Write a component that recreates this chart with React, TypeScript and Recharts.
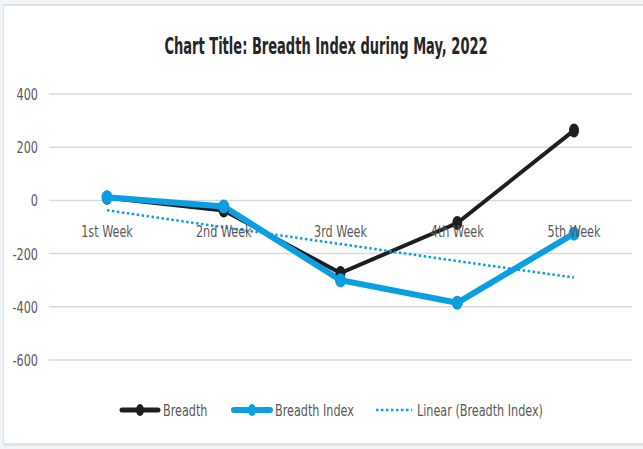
import { LineChart, Line, XAxis, YAxis, CartesianGrid, Legend } from "recharts";

const weeks = ["1st Week", "2nd Week", "3rd Week", "4th Week", "5th Week"];
const breadth = [10, -38, -273, -85, 263];
const breadthIndex = [12, -23, -300, -385, -125];
// dotted trend line at each week
const trendBreadthIndex = [-37, -101, -164, -228, -290];
const yTicks = [400, 200, 0, -200, -400, -600];

const data = weeks.map((week, i) => ({
  week,
  breadth: breadth[i],
  breadthIndex: breadthIndex[i],
  trend: trendBreadthIndex[i],
}));

const BLACK = "#1e1e1e";
const BLUE = "#0a9fe0";
const TEXT = "#595959";
const FONT = "'DejaVu Sans Condensed', Roboto, sans-serif";
const SQUEEZE = 0.78; // the source text is much narrower than it is tall

const makeDot = (color: string, rx: number, ry: number) => (props: any) => {
  const { cx, cy, index } = props;
  if (cx == null || cy == null) return <g key={index} />;
  return <ellipse key={index} cx={cx} cy={cy} rx={rx} ry={ry} fill={color} />;
};

const NarrowText = ({ x, y, anchor, children }: any) => (
  <text
    transform={`translate(${x},${y}) scale(${SQUEEZE},1)`}
    textAnchor={anchor}
    fill={TEXT}
    fontSize={16}
    fontFamily={FONT}
  >
    {children}
  </text>
);

// category labels sit just under the zero line, like the original
const WeekTick = (props: any) => <NarrowText x={props.x} y={237} anchor="middle">{props.payload.value}</NarrowText>;

const ValueTick = (props: any) => <NarrowText x={38} y={props.y + 6} anchor="end">{props.payload.value}</NarrowText>;

const legendItems = [
  { label: "Breadth", color: BLACK, width: 5, dotted: false, x: 122 },
  { label: "Breadth Index", color: BLUE, width: 6, dotted: false, x: 234 },
  { label: "Linear (Breadth Index)", color: BLUE, width: 2.5, dotted: true, x: 376 },
];

function LegendContent() {
  return (
    <svg width={643} height={26}>
      {legendItems.map((item) => (
        <g key={item.label}>
          <line
            x1={item.x}
            x2={item.x + 36}
            y1={12}
            y2={12}
            stroke={item.color}
            strokeWidth={item.width}
            strokeLinecap={item.dotted ? "butt" : "round"}
            strokeDasharray={item.dotted ? "2.5 2.5" : undefined}
          />
          {!item.dotted && <ellipse cx={item.x + 18} cy={12} rx={4} ry={6} fill={item.color} />}
          <NarrowText x={item.x + 41} y={18} anchor="start">
            {item.label}
          </NarrowText>
        </g>
      ))}
    </svg>
  );
}

export default function App() {
  return (
    <div style={{ position: "absolute", left: 0, top: 0, width: 643, height: 449, background: "#eef6fc", overflow: "hidden" }}>
      <div
        style={{
          position: "absolute",
          left: 3,
          top: 4,
          width: 640,
          height: 442,
          background: "#fff",
          borderTop: "2px solid #e2e2e2",
          borderLeft: "1px solid #e2e2e2",
          borderBottom: "3px solid #e4e4e4",
          boxSizing: "border-box",
        }}
      />
      <svg width={643} height={70} style={{ position: "absolute", left: 0, top: 0 }}>
        <text
          transform="translate(326,54) scale(0.63,1)"
          textAnchor="middle"
          fontFamily={FONT}
          fontWeight="bold"
          fontSize={23}
          fill="#262626"
        >
          Chart Title: Breadth Index during May, 2022
        </text>
      </svg>
      <div style={{ position: "absolute", left: 0, top: 0 }}>
        <LineChart width={643} height={449} data={data} margin={{ top: 94, right: 11, bottom: 69, left: 4 }}>
          <CartesianGrid vertical={false} stroke="#d9d9d9" strokeWidth={1.5} />
          <XAxis
            dataKey="week"
            axisLine={false}
            tickLine={false}
            height={20}
            padding={{ left: 58, right: 58 }}
            tick={<WeekTick />}
            interval={0}
          />
          <YAxis
            domain={[-600, 400]}
            ticks={yTicks}
            axisLine={false}
            tickLine={false}
            width={45}
            tick={<ValueTick />}
          />
          <Legend
            layout="vertical"
            align="center"
            verticalAlign="middle"
            wrapperStyle={{ top: 398, left: 0, width: 643 }}
            content={<LegendContent />}
          />
          <Line
            dataKey="breadth"
            name="Breadth"
            stroke={BLACK}
            strokeWidth={4}
            dot={makeDot(BLACK, 5, 7)}
            activeDot={false}
            isAnimationActive={false}
          />
          <Line
            dataKey="breadthIndex"
            name="Breadth Index"
            stroke={BLUE}
            strokeWidth={6}
            dot={makeDot(BLUE, 5.5, 7)}
            activeDot={false}
            isAnimationActive={false}
          />
          <Line
            dataKey="trend"
            name="Linear (Breadth Index)"
            stroke={BLUE}
            strokeWidth={2.5}
            strokeDasharray="2.5 2.5"
            dot={false}
            activeDot={false}
            isAnimationActive={false}
          />
        </LineChart>
      </div>
    </div>
  );
}
